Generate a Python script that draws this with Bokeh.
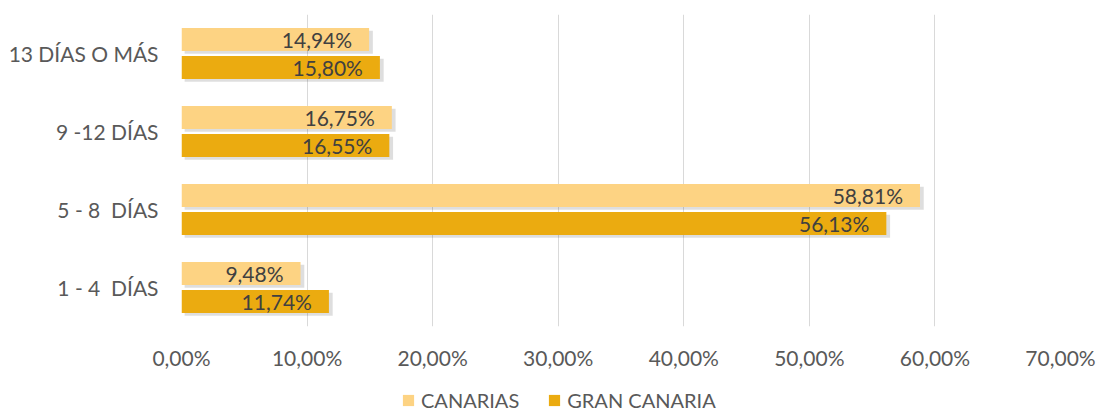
from bokeh.plotting import figure
from bokeh.layouts import column
from bokeh.models import ColumnDataSource, FixedTicker, Legend, LegendItem
from bokeh.transform import dodge
from bokeh.core.properties import value
from bokeh.embed import file_html
from bokeh.resources import INLINE

categories = ["1 - 4 \u00a0DÍAS", "5 - 8 \u00a0DÍAS", "9 -12 DÍAS", "13 DÍAS O MÁS"]
canarias = [9.48, 58.81, 16.75, 14.94]
gran_canaria = [11.74, 56.13, 16.55, 15.80]
tick_values = [0, 10, 20, 30, 40, 50, 60, 70]
tick_labels = ["0,00%", "10,00%", "20,00%", "30,00%", "40,00%", "50,00%", "60,00%", "70,00%"]
series_names = ["CANARIAS", "GRAN CANARIA"]
colors = ["#FDD383", "#EBAB10"]

def fmt(v):
    return f"{v:.2f}".replace(".", ",") + "%"

src = ColumnDataSource(dict(
    cat=categories,
    can=canarias,
    gc=gran_canaria,
    can_lbl=[fmt(v) for v in canarias],
    gc_lbl=[fmt(v) for v in gran_canaria],
))

FONT = "Lato"

p = figure(frame_width=879, frame_height=312, y_range=categories, x_range=(0, 70),
           output_backend="svg", toolbar_location=None,
           min_border_left=181, min_border_right=39, min_border_top=14, min_border_bottom=0)
p.outline_line_color = None
p.background_fill_color = "white"
p.border_fill_color = "white"

off = 0.18
h = 0.295
# soft shadows
for col, o in (("can", off), ("gc", -off)):
    p.hbar(y=dodge("cat", o - 0.035, range=p.y_range), left=0.25, right=dodge(col, 0.3),
           height=h, source=src, fill_color="#000000", fill_alpha=0.13, line_color=None)

p.hbar(y=dodge("cat", off, range=p.y_range), left=0, right="can", height=h,
       source=src, fill_color=colors[0], line_color=None)
p.hbar(y=dodge("cat", -off, range=p.y_range), left=0, right="gc", height=h,
       source=src, fill_color=colors[1], line_color=None)

p.text(x="can", y=dodge("cat", off, range=p.y_range), text="can_lbl", source=src,
       text_align="right", text_baseline="middle", x_offset=-17,
       text_font=value(FONT), text_font_size="21px", text_color="#404040")
p.text(x="gc", y=dodge("cat", -off, range=p.y_range), text="gc_lbl", source=src,
       text_align="right", text_baseline="middle", x_offset=-17,
       text_font=value(FONT), text_font_size="21px", text_color="#404040")

p.xaxis.ticker = FixedTicker(ticks=tick_values)
p.xaxis.major_label_overrides = {t: l for t, l in zip(tick_values, tick_labels)}
for ax in (p.xaxis[0], p.yaxis[0]):
    ax.axis_line_color = None
    ax.major_tick_line_color = None
    ax.minor_tick_line_color = None
    ax.major_tick_out = 0
    ax.major_tick_in = 0
    ax.major_label_text_font = FONT
    ax.major_label_text_font_size = "21px"
    ax.major_label_text_color = "#595959"
p.xaxis.major_label_standoff = 18
p.yaxis.major_label_standoff = 23

p.xgrid.grid_line_color = "#D9D9D9"
p.xgrid.grid_line_width = 1
p.ygrid.grid_line_color = None

# legend strip below the chart (dummy renderers lie outside the visible range)
p2 = figure(width=1099, height=44, output_backend="svg", toolbar_location=None,
            min_border=0, x_range=(0, 1), y_range=(0, 1))
p2.outline_line_color = None
p2.axis.visible = False
p2.grid.visible = False
dummy = ColumnDataSource(dict(y=[-10], right=[-10]))
l1 = p2.hbar(y="y", right="right", height=0.5, source=dummy, fill_color=colors[0], line_color=None)
l2 = p2.hbar(y="y", right="right", height=0.5, source=dummy, fill_color=colors[1], line_color=None)

legend = Legend(items=[LegendItem(label=series_names[0], renderers=[l1]),
                       LegendItem(label=series_names[1], renderers=[l2])],
                orientation="horizontal", location=(220, 4),
                label_text_font=FONT, label_text_font_size="20px", label_text_color="#595959",
                glyph_width=14, glyph_height=14, spacing=28, label_standoff=6,
                border_line_color=None, background_fill_alpha=0, margin=0, padding=2)
p2.add_layout(legend)

open("out.html", "w").write(file_html(column(p, p2, spacing=0), INLINE))
